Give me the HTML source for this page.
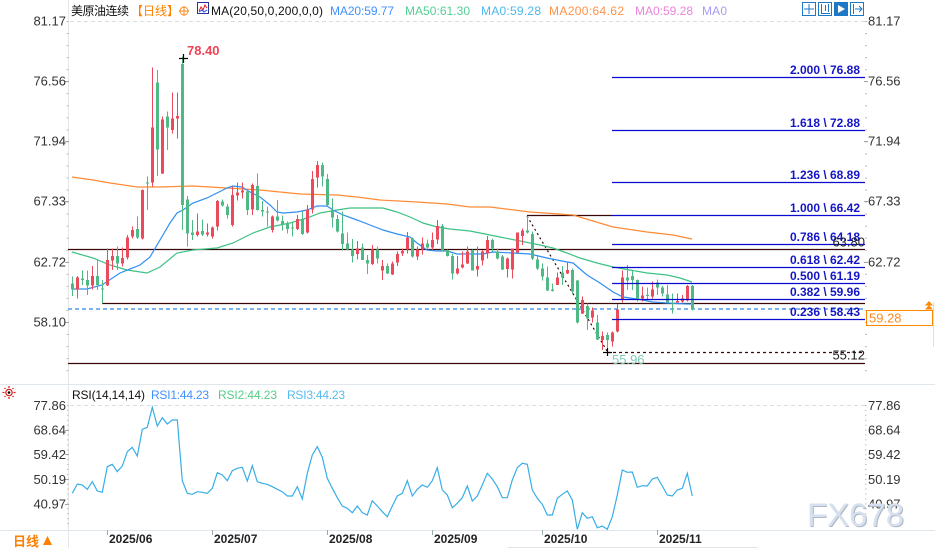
<!DOCTYPE html>
<html><head><meta charset="utf-8">
<style>
html,body{margin:0;padding:0;background:#fff;overflow:hidden;}
svg{display:block;}
text{font-family:"Liberation Sans","Noto Sans CJK SC",sans-serif;}
.ax{font-size:13px;fill:#333;}
.fib{font-size:12px;font-weight:bold;fill:#1515c8;}
.dt{font-size:12px;font-weight:bold;fill:#222;}
</style></head>
<body>
<svg id="s" width="935" height="548" viewBox="0 0 935 548" xmlns="http://www.w3.org/2000/svg">
<rect width="935" height="548" fill="#fff"/>
<!-- axes -->
<line x1="68.5" y1="0" x2="68.5" y2="548" stroke="#e6e6e6"/>
<line x1="70" y1="21.5" x2="865" y2="21.5" stroke="#dcdcdc" stroke-dasharray="4,3"/>
<line x1="70" y1="405.5" x2="865" y2="405.5" stroke="#dcdcdc" stroke-dasharray="4,3"/>
<line x1="0" y1="384.5" x2="935" y2="384.5" stroke="#dfe6ec"/>
<line x1="0" y1="530.5" x2="935" y2="530.5" stroke="#dfe6ec"/>
<line x1="508" y1="547.5" x2="758" y2="547.5" stroke="#e3e3e3"/>
<line x1="933.5" y1="302" x2="933.5" y2="347" stroke="#e0e0e0"/>
<g id="ticks" stroke="#bbb"></g>
<!-- major ticks -->
<g stroke="#9aa" stroke-width="1">
<line x1="65" y1="81.5" x2="69" y2="81.5"/><line x1="65" y1="141.5" x2="69" y2="141.5"/><line x1="65" y1="201.5" x2="69" y2="201.5"/><line x1="65" y1="262.5" x2="69" y2="262.5"/><line x1="65" y1="322.5" x2="69" y2="322.5"/>
<line x1="864" y1="81.5" x2="868" y2="81.5"/><line x1="864" y1="141.5" x2="868" y2="141.5"/><line x1="864" y1="201.5" x2="868" y2="201.5"/><line x1="864" y1="262.5" x2="868" y2="262.5"/>
<line x1="65" y1="430.5" x2="69" y2="430.5"/><line x1="65" y1="454.5" x2="69" y2="454.5"/><line x1="65" y1="479.5" x2="69" y2="479.5"/><line x1="65" y1="504.5" x2="69" y2="504.5"/>
<line x1="107.5" y1="530" x2="107.5" y2="535"/><line x1="212.5" y1="530" x2="212.5" y2="535"/><line x1="327.5" y1="530" x2="327.5" y2="535"/><line x1="432.5" y1="530" x2="432.5" y2="535"/><line x1="542.5" y1="530" x2="542.5" y2="535"/><line x1="657.5" y1="530" x2="657.5" y2="535"/>
</g>

<!-- dark horizontal lines -->
<g stroke="#3a0808" stroke-width="1.2">
<line x1="68" y1="249.5" x2="865" y2="249.5"/>
<line x1="102" y1="303.5" x2="865" y2="303.5"/>
<line x1="68" y1="363.5" x2="865" y2="363.5"/>
<line x1="527" y1="215.5" x2="612" y2="215.5"/>
</g>
<line x1="68" y1="309" x2="865" y2="309" stroke="#2f86e8" stroke-width="1.2" stroke-dasharray="4,3"/>
<line x1="527" y1="216" x2="607" y2="351" stroke="#2a0a0a" stroke-width="1.2" stroke-dasharray="2,3"/>
<line x1="607" y1="352.5" x2="865" y2="352.5" stroke="#3a0808" stroke-width="1.2" stroke-dasharray="3,3"/>

<!-- MA lines -->
<polyline fill="none" stroke="#ff8a36" stroke-width="1.2" points="72,177 93,180 110,183 137,187 160,187 193,186 227,188 260,190 280,192 300,194 337,195 357,197 380,200 417,202 447,204 470,207 490,207 530,212 573,215 613,227 647,232 673,235 692,239"/>
<polyline fill="none" stroke="#3cc285" stroke-width="1.2" points="72,252 93,258 110,265 127,270 147,273 160,267 177,253 193,250 217,248 233,243 253,233 270,227 290,223 307,218 320,213 337,210 350,208 370,208 383,208 397,212 410,217 423,223 437,227 450,229 470,231 480,233 500,237 520,241 540,245 553,248 567,253 580,258 597,263 613,267 630,270 647,273 667,275 680,278 692,282"/>
<polyline fill="none" stroke="#2f8ff0" stroke-width="1.2" points="72,289 87,289 102,285 120,273 140,265 150,257 160,240 170,223 177,213 183,210 193,203 207,198 217,193 227,188 233,186 242,187 250,192 260,197 270,205 277,212 283,213 297,212 307,210 317,206 327,206 333,210 343,215 357,220 370,225 383,230 397,234 410,237 417,243 427,250 437,251 447,251 457,254 470,254 483,254 493,252 513,253 530,254 547,258 567,262 573,263 587,275 600,283 613,292 623,297 637,299 653,302 667,303 687,304 692,304"/>

<g id="cand" shape-rendering="crispEdges"></g>

<!-- Fibonacci lines -->
<g stroke="#0a0ad0" stroke-width="1.3">
<line x1="612" y1="77.5" x2="865" y2="77.5"/>
<line x1="612" y1="130.5" x2="865" y2="130.5"/>
<line x1="612" y1="182.5" x2="865" y2="182.5"/>
<line x1="612" y1="215.5" x2="865" y2="215.5"/>
<line x1="612" y1="244.5" x2="865" y2="244.5"/>
<line x1="612" y1="267.5" x2="865" y2="267.5"/>
<line x1="612" y1="283.5" x2="865" y2="283.5"/>
<line x1="612" y1="299.5" x2="865" y2="299.5"/>
<line x1="612" y1="319.5" x2="865" y2="319.5"/>
</g>
<g class="fib" text-anchor="end">
<text x="860" y="74" textLength="70" lengthAdjust="spacingAndGlyphs">2.000 \ 76.88</text>
<text x="860" y="127" textLength="70" lengthAdjust="spacingAndGlyphs">1.618 \ 72.88</text>
<text x="860" y="179" textLength="70" lengthAdjust="spacingAndGlyphs">1.236 \ 68.89</text>
<text x="860" y="212" textLength="70" lengthAdjust="spacingAndGlyphs">1.000 \ 66.42</text>
<text x="860" y="241" textLength="70" lengthAdjust="spacingAndGlyphs">0.786 \ 64.18</text>
<text x="860" y="264" textLength="70" lengthAdjust="spacingAndGlyphs">0.618 \ 62.42</text>
<text x="860" y="280" textLength="70" lengthAdjust="spacingAndGlyphs">0.500 \ 61.19</text>
<text x="860" y="296" textLength="70" lengthAdjust="spacingAndGlyphs">0.382 \ 59.96</text>
<text x="860" y="316" textLength="70" lengthAdjust="spacingAndGlyphs">0.236 \ 58.43</text>
</g>
<text x="865" y="246.5" text-anchor="end" style="font-size:13px;fill:#222">63.80</text>
<text x="865" y="359.5" text-anchor="end" style="font-size:13px;fill:#222">55.12</text>

<!-- markers -->
<g stroke="#000" stroke-width="1.2">
<line x1="179" y1="58.5" x2="188" y2="58.5"/><line x1="183.5" y1="54" x2="183.5" y2="63"/>
<line x1="603" y1="352.5" x2="612" y2="352.5"/><line x1="607.5" y1="348" x2="607.5" y2="356"/>
</g>
<text x="187" y="55" style="font-size:13px;font-weight:bold;fill:#ee4455">78.40</text>
<text x="612" y="364" style="font-size:13px;fill:#7fcab8">55.96</text>

<!-- RSI -->
<polyline fill="none" stroke="#38aee6" stroke-width="1.2" points="72.3,493.3 77.3,484 82.3,485 87.3,489.3 92.3,481.7 97.3,491 102.3,492.3 107.3,466.7 112.3,464.3 117.3,471.7 122.3,466 127.3,451.7 132.3,447.3 137.3,456 142.3,429.3 147.3,427.3 152.3,407.3 157.3,426 162.3,417.7 167.3,424 172.3,420 177.3,420 182.3,480.7 187.3,493.3 192.3,494.3 197.3,491.7 202.3,492.3 207.3,493.3 212.3,488.3 217.3,472.7 222.3,475 227.3,480.7 232.3,470.7 237.3,468.3 242.3,467.3 247.3,481 252.3,465.7 257.3,481.7 262.3,483.3 267.3,484.3 272.3,486.7 277.3,489.3 282.3,491.7 287.3,496 292.3,496 297.3,486.7 302.3,499 307.3,473.3 312.3,455 317.3,446.7 322.3,457.3 327.3,478.3 332.3,488.3 337.3,497.7 342.3,506 347.3,508.3 352.3,512.7 357.3,506 362.3,512.7 367.3,515 372.3,500.7 377.3,506 382.3,511.7 387.3,516.7 392.3,506 397.3,496 402.3,493.3 407.3,480.7 412.3,496 417.3,489.3 422.3,485 427.3,487.3 432.3,480.7 437.3,467.7 442.3,490 447.3,495 452.3,507.7 457.3,503.3 462.3,497.7 467.3,486 472.3,501 477.3,496 482.3,485 487.3,473.3 492.3,479 497.3,486.7 502.3,497.7 507.3,497.7 512.3,480 517.3,467.7 522.3,463.3 527.3,464.3 532.3,490 537.3,498.3 542.3,504.3 547.3,515 552.3,515 557.3,498.3 562.3,494.3 567.3,491 572.3,500 577.3,529.3 582.3,512.7 587.3,518.3 592.3,516.7 597.3,527.7 602.3,526 607.3,529.3 612.3,516.7 617.3,495 622.3,470 627.3,472.3 632.3,472 637.3,487.3 642.3,485.7 647.3,486 652.3,479 657.3,477.3 662.3,486 667.3,495 672.3,496 677.3,490 682.3,488.3 687.3,473.3 692.3,496"/>

<!-- axis labels -->
<g class="ax" text-anchor="end">
<text x="66" y="25.5">81.17</text>
<text x="66" y="85.5">76.56</text>
<text x="66" y="145.5">71.94</text>
<text x="66" y="205.5">67.33</text>
<text x="66" y="266.5">62.72</text>
<text x="66" y="326.5">58.10</text>
<text x="66" y="410">77.86</text>
<text x="66" y="434.5">68.64</text>
<text x="66" y="459">59.42</text>
<text x="66" y="484">50.19</text>
<text x="66" y="508.5">40.97</text>
</g>
<g class="ax">
<text x="868" y="25.5">81.17</text>
<text x="868" y="85.5">76.56</text>
<text x="868" y="145.5">71.94</text>
<text x="868" y="205.5">67.33</text>
<text x="868" y="266.5">62.72</text>
<text x="868" y="410">77.86</text>
<text x="868" y="434.5">68.64</text>
<text x="868" y="459">59.42</text>
<text x="868" y="484">50.19</text>
<text x="868" y="508.5">40.97</text>
</g>

<!-- price box -->
<rect x="866.5" y="310.5" width="66" height="15" fill="#fff" stroke="#ff8800"/>
<text x="869" y="322.5" style="font-size:13px;fill:#ff8a1e">59.28</text>
<g fill="#ff8800">
<polygon points="929,301 925,305.5 933,305.5"/>
<polygon points="929,305 925,309.5 933,309.5"/>
</g>

<!-- dates -->
<g class="dt">
<text x="109" y="543">2025/06</text>
<text x="214" y="543">2025/07</text>
<text x="329" y="543">2025/08</text>
<text x="434" y="543">2025/09</text>
<text x="544" y="543">2025/10</text>
<text x="659" y="543">2025/11</text>
</g>
<text x="13" y="546" style="font-size:13px;fill:#ff7f00;font-weight:bold">日线</text>
<polygon points="47.5,536 43,545 52,545" fill="#ff7f00"/>

<!-- watermark -->
<text x="808" y="527" textLength="97" lengthAdjust="spacingAndGlyphs" style="font-size:32px;fill:#aeb8c6">FX678</text>
<text x="807" y="526" textLength="97" lengthAdjust="spacingAndGlyphs" style="font-size:32px;fill:#d6e0ee">FX678</text>

<!-- header -->
<text x="71" y="15" textLength="58" style="font-size:12px;fill:#111">美原油连续</text>
<text x="131" y="15" style="font-size:12px;fill:#ff8000">【日线】</text>
<g stroke="#ff8a1e" fill="none" stroke-width="1">
<circle cx="184" cy="11" r="4"/>
<line x1="179" y1="11" x2="189" y2="11"/><line x1="184" y1="6" x2="184" y2="16"/>
</g>
<rect x="197.5" y="2.5" width="11" height="11" fill="#fff" stroke="#223399"/>
<polyline points="199,11 201,7 203,10 205,5 207,8" fill="none" stroke="#e02020" stroke-width="1"/>
<polyline points="199,12 202,10 204,12 207,10" fill="none" stroke="#2244dd" stroke-width="1"/>
<g style="font-size:12px">
<text x="211" y="15" textLength="112" fill="#111">MA(20,50,0,200,0,0)</text>
<text x="330" y="15" textLength="64" fill="#4090ff">MA20:59.77</text>
<text x="405" y="15" textLength="65" fill="#55cf96">MA50:61.30</text>
<text x="481" y="15" textLength="60" fill="#4cb8ec">MA0:59.28</text>
<text x="549" y="15" textLength="75" fill="#ff9248">MA200:64.62</text>
<text x="635" y="15" textLength="58" fill="#ec84dc">MA0:59.28</text>
<text x="702" y="15" textLength="25" fill="#a59cf4">MA0</text>
</g>
<!-- top-right icons -->
<g stroke="#1e78c8" fill="#fff" stroke-width="1">
<rect x="802.5" y="2.5" width="13" height="13"/>
<rect x="818.5" y="2.5" width="13" height="13"/>
<rect x="834.5" y="2.5" width="13" height="13" fill="#1e78c8"/>
<rect x="850.5" y="2.5" width="13" height="13"/>
<line x1="809" y1="4" x2="809" y2="14"/><line x1="804" y1="9" x2="814" y2="9"/>
<line x1="821.5" y1="4" x2="821.5" y2="14"/><line x1="821" y1="13.5" x2="830" y2="13.5"/><line x1="825.5" y1="5" x2="825.5" y2="11"/><line x1="828.5" y1="4" x2="828.5" y2="12"/>
<line x1="853.5" y1="4" x2="853.5" y2="14"/><line x1="855" y1="9" x2="862" y2="9"/>
</g>
<polygon points="838,5 838,13 845,9" fill="#fff"/>
<polyline points="859,6 862,9 859,12" fill="none" stroke="#1e78c8"/>

<!-- RSI header -->
<g stroke="#dd1111" stroke-width="1.2" fill="none">
<circle cx="9" cy="392.5" r="3.2"/>
<line x1="9" y1="386" x2="9" y2="388"/><line x1="9" y1="397" x2="9" y2="399"/>
<line x1="2.5" y1="392.5" x2="4.5" y2="392.5"/><line x1="13.5" y1="392.5" x2="15.5" y2="392.5"/>
<line x1="4.5" y1="388" x2="5.5" y2="389"/><line x1="12.5" y1="396" x2="13.5" y2="397"/>
<line x1="13.5" y1="388" x2="12.5" y2="389"/><line x1="4.5" y1="397" x2="5.5" y2="396"/>
</g>
<circle cx="9" cy="392.5" r="1.3" fill="#000"/>
<g style="font-size:12px">
<text x="72" y="399" textLength="73" fill="#111">RSI(14,14,14)</text>
<text x="151" y="399" textLength="58" fill="#4090ff">RSI1:44.23</text>
<text x="218" y="399" textLength="59" fill="#55cc88">RSI2:44.23</text>
<text x="287" y="399" textLength="58" fill="#55bbee">RSI3:44.23</text>
</g>
</svg>
<script>
(function(){
var NS="http://www.w3.org/2000/svg";
function el(t,a,p){var e=document.createElementNS(NS,t);for(var k in a)e.setAttribute(k,a[k]);p.appendChild(e);return e;}
var g=document.getElementById('cand');
var A=[['g',700,718,680,738],['r',683,718,678,745],['g',685,690,662,705],['g',690,706,662,735],['r',678,706,648,718],['g',678,705,630,720],['g',715,718,690,760],['r',630,706,595,708],['r',618,632,595,660],['g',618,640,590,660],['r',624,640,592,650],['r',563,623,555,628],['r',540,560,530,565],['g',537,563,500,567],['r',420,565,418,568],['g',397,401,380,480],['r',232,398,52,410],['g',98,298,60,378],['r',208,370,200,372],['g',200,233,185,300],['r',205,240,128,250],['r',198,205,128,265],['g',42,465,20,540],['g',448,550,438,590],['g',548,555,510,570],['r',545,555,490,560],['g',543,553,508,558],['r',548,553,520,560],['r',533,560,530,565],['r',453,530,450,542],['g',455,467,448,470],['g',470,495,462,505],['r',435,525,410,530],['r',428,437,398,452],['r',422,428,398,445],['g',425,480,418,495],['r',405,478,400,495],['g',408,480,370,482],['g',480,485,453,500],['g',485,487,470,530]];
var B=[['r',200,240,197,248],['g',200,212,150,215],['g',213,225,197,242],['g',222,237,215,250],['g',233,235,215,260],['r',207,237,195,240],['g',207,252,185,255],['r',178,248,165,250],['r',87,178,63,190],['r',45,83,33,112],['g',45,80,37,110],['g',87,165,72,168],['g',180,203,145,233],['g',207,245,195,248],['g',250,282,185,302],['g',280,298,247,302],['g',298,318,267,338],['r',295,312,273,328],['g',292,330,280,330],['g',330,340,315,372],['r',298,342,285,345],['g',298,326,290,340],['r',348,362,330,390],['g',348,370,340,372],['r',340,373,335,375],['r',312,338,305,348],['r',303,310,295,318],['r',263,298,246,310],['g',265,320,262,322],['r',298,320,290,330],['r',280,298,262,313],['g',280,292,268,295],['r',270,293,248,300],['r',228,268,210,282],['g',228,302,222,304],['g',300,318,298,320],['g',318,370,312,388],['r',355,370,318,373],['r',343,353,305,355],['r',305,340,290,342],['g',300,362,298,362],['r',348,358,290,380]];
var C=[['r',155,182,150,197],['r',120,160,108,175],['g',120,145,115,155],['g',155,175,145,178],['g',170,208,165,210],['r',175,207,172,233],['r',145,208,145,235],['r',98,158,97,160],['r',92,108,85,135],['g',92,98,48,100],['g',102,175,95,180],['g',178,205,168,210],['g',205,230,190,242],['g',232,272,200,273],['g',268,273,250,275],['r',233,255,217,255],['g',218,232,198,255],['r',210,220,185,222],['g',210,275,205,280],['g',242,368,240,370],['r',300,340,290,342],['g',318,355,310,390],['r',332,352,322,368],['g',368,418,345,420],['r',408,420,395,450],['g',405,420,398,458],['r',398,425,395,440],['r',328,395,312,397],['r',232,300,212,308],['g',232,242,195,270],['g',228,240,212,270],['g',240,300,238,305],['r',287,295,260,305],['g',285,288,262,302],['r',268,290,245,295],['g',248,262,238,285],['g',262,280,258,290],['g',283,308,255,310],['g',308,310,280,340],['r',303,308,280,310],['r',295,305,285,308],['r',258,302,255,305],['g',258,328,255,332]];
function add(arr,off,start){
 arr.forEach(function(d,i){
  var cx=72+5*(start+i);
  var c=d[0]=='r'?'#eb4a5a':'#4fb986';
  var bt=off+d[1]/3,bb=off+d[2]/3,wt=off+d[3]/3,wb=off+d[4]/3;
  el('rect',{x:cx,y:wt.toFixed(1),width:1,height:Math.max(1,wb-wt).toFixed(1),fill:c},g);
  el('rect',{x:cx-1,y:bt.toFixed(1),width:3,height:Math.max(1,bb-bt).toFixed(1),fill:c},g);
 });
}
add(A,50,0);add(B,150,40);add(C,200,82);
var t=document.getElementById('ticks');
for(var y=21.5;y<372;y+=12.04){el('line',{x1:66.5,y1:y.toFixed(1),x2:68.5,y2:y.toFixed(1)},t);el('line',{x1:865,y1:y.toFixed(1),x2:867,y2:y.toFixed(1)},t);}
for(var y2=405.5;y2<528;y2+=4.92){el('line',{x1:67,y1:y2.toFixed(1),x2:68.5,y2:y2.toFixed(1)},t);el('line',{x1:865,y1:y2.toFixed(1),x2:866.5,y2:y2.toFixed(1)},t);}
})();
</script>
</body></html>
